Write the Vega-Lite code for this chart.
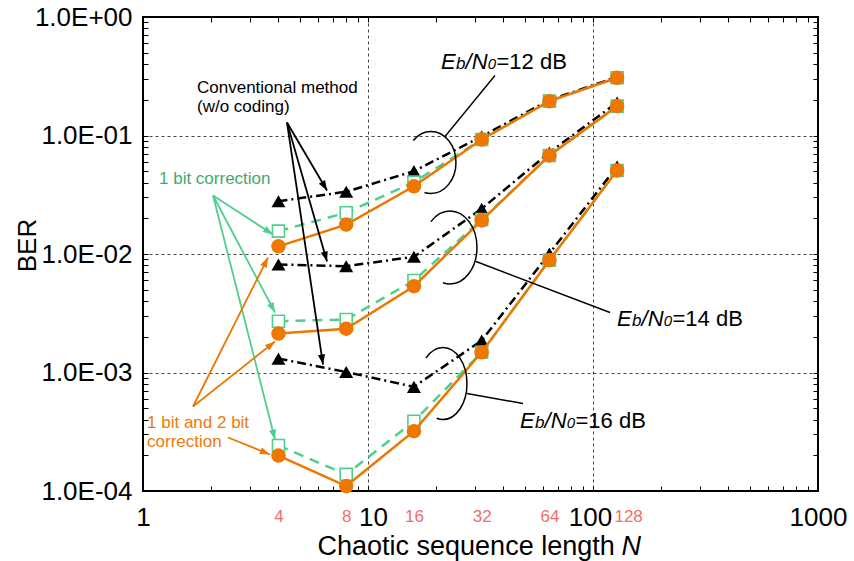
{
"$schema":"https://vega.github.io/schema/vega-lite/v6.json",
"width":675,"height":474,
"autosize":{"type":"none"},
"padding":{"left":143,"top":17,"right":36,"bottom":70},
"background":"white",
"config":{
  "font":"Liberation Sans",
  "view":{"stroke":"black","strokeWidth":2},
  "axis":{"domain":false,"labelFont":"Liberation Sans","titleFont":"Liberation Sans","labelColor":"black","titleColor":"black","titleFontWeight":"normal","tickColor":"black","tickWidth":1,"gridColor":"#444444","gridDash":[3,3],"gridWidth":1,"gridOpacity":1}
},
"datasets":{
  "ber":[
    {"m":"conv","snr":"12","N":4,"BER":0.0279},{"m":"conv","snr":"12","N":8,"BER":0.0335},{"m":"conv","snr":"12","N":16,"BER":0.0500},{"m":"conv","snr":"12","N":32,"BER":0.0981},{"m":"conv","snr":"12","N":64,"BER":0.199},{"m":"conv","snr":"12","N":128,"BER":0.312},
    {"m":"bit1","snr":"12","N":4,"BER":0.0156},{"m":"bit1","snr":"12","N":8,"BER":0.0223},{"m":"bit1","snr":"12","N":16,"BER":0.0404},{"m":"bit1","snr":"12","N":32,"BER":0.0925},{"m":"bit1","snr":"12","N":64,"BER":0.195},{"m":"bit1","snr":"12","N":128,"BER":0.307},
    {"m":"bit12","snr":"12","N":4,"BER":0.0116},{"m":"bit12","snr":"12","N":8,"BER":0.0177},{"m":"bit12","snr":"12","N":16,"BER":0.0373},{"m":"bit12","snr":"12","N":32,"BER":0.0925},{"m":"bit12","snr":"12","N":64,"BER":0.195},{"m":"bit12","snr":"12","N":128,"BER":0.307},
    {"m":"conv","snr":"14","N":4,"BER":0.00816},{"m":"conv","snr":"14","N":8,"BER":0.00789},{"m":"conv","snr":"14","N":16,"BER":0.00947},{"m":"conv","snr":"14","N":32,"BER":0.0241},{"m":"conv","snr":"14","N":64,"BER":0.0719},{"m":"conv","snr":"14","N":128,"BER":0.190},
    {"m":"bit1","snr":"14","N":4,"BER":0.00271},{"m":"bit1","snr":"14","N":8,"BER":0.00280},{"m":"bit1","snr":"14","N":16,"BER":0.00597},{"m":"bit1","snr":"14","N":32,"BER":0.0195},{"m":"bit1","snr":"14","N":64,"BER":0.0678},{"m":"bit1","snr":"14","N":128,"BER":0.177},
    {"m":"bit12","snr":"14","N":4,"BER":0.00213},{"m":"bit12","snr":"14","N":8,"BER":0.00234},{"m":"bit12","snr":"14","N":16,"BER":0.00535},{"m":"bit12","snr":"14","N":32,"BER":0.0192},{"m":"bit12","snr":"14","N":64,"BER":0.0678},{"m":"bit12","snr":"14","N":128,"BER":0.177},
    {"m":"conv","snr":"16","N":4,"BER":0.00131},{"m":"conv","snr":"16","N":8,"BER":0.00101},{"m":"conv","snr":"16","N":16,"BER":0.000757},{"m":"conv","snr":"16","N":32,"BER":0.00186},{"m":"conv","snr":"16","N":64,"BER":0.0101},{"m":"conv","snr":"16","N":128,"BER":0.0548},
    {"m":"bit1","snr":"16","N":4,"BER":0.000242},{"m":"bit1","snr":"16","N":8,"BER":0.000138},{"m":"bit1","snr":"16","N":16,"BER":0.000388},{"m":"bit1","snr":"16","N":32,"BER":0.00148},{"m":"bit1","snr":"16","N":64,"BER":0.00887},{"m":"bit1","snr":"16","N":128,"BER":0.0507},
    {"m":"bit12","snr":"16","N":4,"BER":0.000199},{"m":"bit12","snr":"16","N":8,"BER":0.000110},{"m":"bit12","snr":"16","N":16,"BER":0.000320},{"m":"bit12","snr":"16","N":32,"BER":0.00148},{"m":"bit12","snr":"16","N":64,"BER":0.00887},{"m":"bit12","snr":"16","N":128,"BER":0.0507}
  ],
  "arrows":[
    {"g":"conv","x1":4.365,"y1":0.1287,"x2":6.574,"y2":0.03435},
    {"g":"conv","x1":4.365,"y1":0.1287,"x2":6.574,"y2":0.008646},
    {"g":"conv","x1":4.365,"y1":0.1287,"x2":6.31,"y2":0.001168},
    {"g":"bit1","x1":2.047,"y1":0.03116,"x2":3.783,"y2":0.01461},
    {"g":"bit1","x1":2.047,"y1":0.03116,"x2":3.861,"y2":0.003208},
    {"g":"bit1","x1":2.047,"y1":0.03116,"x2":3.861,"y2":0.0002721},
    {"g":"bit12","x1":1.668,"y1":0.0005165,"x2":3.594,"y2":0.00934},
    {"g":"bit12","x1":1.668,"y1":0.0005165,"x2":3.861,"y2":0.001827},
    {"g":"bit12","x1":2.387,"y1":0.000283,"x2":3.667,"y2":0.0002032}
  ],
  "leaders":[
    {"x1":21.99,"y1":0.09808,"x2":36.67,"y2":0.3209},
    {"x1":30.2,"y1":0.008646,"x2":119.0,"y2":0.003208},
    {"x1":27.54,"y1":0.0006649,"x2":48.86,"y2":0.0005474}
  ],
  "arcs":[
    {"snr":"12","x":19.05,"y":0.0592},
    {"snr":"14","x":23.14,"y":0.01135},
    {"snr":"16","x":21.54,"y":0.000807}
  ],
  "notes":[
    {"g":"conv","x":1.738,"y":0.2306,"t":"Conventional method"},
    {"g":"conv","x":1.738,"y":0.1594,"t":"(w/o coding)"},
    {"g":"bit1","x":1.178,"y":0.0386,"t":"1 bit correction"},
    {"g":"bit12","x":1.042,"y":0.0003434,"t":"1 bit and 2 bit"},
    {"g":"bit12","x":1.042,"y":0.000233,"t":"correction"}
  ],
  "lab":[
    {"snr":"12","x":21.11,"y":0.3675,"t":"=12 dB"},
    {"snr":"14","x":127.8,"y":0.002492,"t":"=14 dB"},
    {"snr":"16","x":47.38,"y":0.0003434,"t":"=16 dB"}
  ]
},
"resolve":{"axis":{"x":"independent","y":"independent"},"scale":{"color":"independent"}},
"encoding":{
  "x":{"type":"quantitative","scale":{"type":"log","domain":[1,1000],"nice":false}},
  "y":{"type":"quantitative","scale":{"type":"log","domain":[0.0001,1],"nice":false}}
},
"layer":[
  {"data":{"name":"ber"},"transform":[{"filter":"datum.m=='conv'"}],
   "mark":{"type":"line","color":"black","strokeWidth":2.5,"strokeDash":[9,4,2,4]},
   "encoding":{
     "x":{"field":"N","axis":{"orient":"bottom","values":[1,10,100,1000],"format":"d","ticks":false,"grid":false,"labelFontSize":26,"labelPadding":13,"labelFlush":false,"labelOverlap":false,"labelOffset":{"condition":[{"test":"datum.value==10","value":5},{"test":"datum.value==100","value":-3}],"value":0},"title":"Chaotic sequence length","titleFontSize":27,"titleX":174,"titleY":63,"titleAlign":"left","titleBaseline":"alphabetic"}},
     "y":{"field":"BER","axis":{"orient":"left","values":[1,0.1,0.01,0.001,0.0001],"ticks":false,"grid":false,"labelFontSize":26,"labelPadding":11,"labelOverlap":false,"labelFlush":false,"labelExpr":"datum.value > 0.5 ? '1.0E+00' : '1.0E-0' + format(-log(datum.value)/LN10, '.0f')","title":"BER","titleFontSize":26,"titleAngle":-90,"titleX":-108,"titleY":228,"titleAlign":"center","titleBaseline":"alphabetic"}},
     "detail":{"field":"snr"}
   }},
  {"data":{"name":"ber"},"transform":[{"filter":"datum.m=='conv'"}],
   "mark":{"type":"point","shape":"triangle-up","filled":true,"color":"black","size":196,"opacity":1},
   "encoding":{
     "x":{"field":"N","axis":{"orient":"bottom","values":[10,100],"grid":true,"ticks":false,"labels":false,"title":null}},
     "y":{"field":"BER","axis":{"orient":"left","values":[0.1,0.01,0.001],"grid":true,"ticks":false,"labels":false,"title":null}}
   }},
  {"data":{"name":"ber"},"transform":[{"filter":"datum.m=='bit1'"}],
   "mark":{"type":"line","color":"#4fcf8d","strokeWidth":2.5,"strokeDash":[10,7]},
   "encoding":{
     "x":{"field":"N","axis":{"orient":"bottom","values":[2,3,4,5,6,7,8,9,10,20,30,40,50,60,70,80,90,100,200,300,400,500,600,700,800,900],"labels":false,"grid":false,"ticks":true,"tickSize":-5,"title":"N","titleFontSize":27,"titleFontStyle":"italic","titleX":478,"titleY":63,"titleAlign":"left","titleBaseline":"alphabetic"}},
     "y":{"field":"BER","axis":{"orient":"left","values":[0.0002,0.0003,0.0004,0.0005,0.0006,0.0007,0.0008,0.0009,0.001,0.002,0.003,0.004,0.005,0.006,0.007,0.008,0.009,0.01,0.02,0.03,0.04,0.05,0.06,0.07,0.08,0.09,0.1,0.2,0.3,0.4,0.5,0.6,0.7,0.8,0.9],"labels":false,"grid":false,"ticks":true,"tickSize":-5,"title":null}},
     "detail":{"field":"snr"}
   }},
  {"data":{"name":"ber"},"transform":[{"filter":"datum.m=='bit1'"}],
   "mark":{"type":"point","shape":"square","filled":false,"fill":"white","fillOpacity":1,"stroke":"#4fcf8d","strokeWidth":1.6,"size":144,"opacity":1},
   "encoding":{
     "x":{"field":"N","axis":{"orient":"top","values":[2,3,4,5,6,7,8,9,10,20,30,40,50,60,70,80,90,100,200,300,400,500,600,700,800,900],"labels":false,"grid":false,"ticks":true,"tickSize":-5,"title":null}},
     "y":{"field":"BER","axis":{"orient":"right","values":[0.0002,0.0003,0.0004,0.0005,0.0006,0.0007,0.0008,0.0009,0.001,0.002,0.003,0.004,0.005,0.006,0.007,0.008,0.009,0.01,0.02,0.03,0.04,0.05,0.06,0.07,0.08,0.09,0.1,0.2,0.3,0.4,0.5,0.6,0.7,0.8,0.9],"labels":false,"grid":false,"ticks":true,"tickSize":-5,"title":null}}
   }},
  {"data":{"name":"ber"},"transform":[{"filter":"datum.m=='bit12'"}],
   "mark":{"type":"line","color":"#ee7700","strokeWidth":2.5},
   "encoding":{
     "x":{"field":"N","axis":{"orient":"bottom","values":[4,8,16,32,64,128],"format":"d","ticks":false,"grid":false,"labelColor":"#f26d6d","labelFontSize":17,"labelPadding":17,"labelFlush":false,"labelOverlap":false,"labelOffset":{"condition":{"test":"datum.value==128","value":11},"value":0},"title":null}},
     "y":{"field":"BER","axis":null},
     "detail":{"field":"snr"}
   }},
  {"data":{"name":"ber"},"transform":[{"filter":"datum.m=='bit12'"}],
   "mark":{"type":"point","shape":"circle","filled":true,"color":"#ee7700","size":210,"opacity":1},
   "encoding":{"x":{"field":"N","axis":null},"y":{"field":"BER","axis":null}}},
  {"data":{"name":"arcs"},"transform":[{"filter":"datum.snr=='12'"}],
   "mark":{"type":"point","filled":false,"stroke":"black","strokeWidth":1.5,"opacity":1,"size":3844,"shape":"M-0.570,-0.707C-0.419,-0.895,-0.214,-1,0,-1C0.445,-1,0.806,-0.552,0.806,0C0.806,0.552,0.445,1,0,1C-0.070,1,-0.141,0.989,-0.209,0.966"},
   "encoding":{"x":{"field":"x","axis":null},"y":{"field":"y","axis":null}}},
  {"data":{"name":"arcs"},"transform":[{"filter":"datum.snr=='14'"}],
   "mark":{"type":"point","filled":false,"stroke":"black","strokeWidth":1.5,"opacity":1,"size":5329,"shape":"M-0.523,-0.707C-0.384,-0.895,-0.196,-1,0,-1C0.409,-1,0.740,-0.552,0.740,0C0.740,0.552,0.409,1,0,1C-0.065,1,-0.129,0.989,-0.192,0.966"},
   "encoding":{"x":{"field":"x","axis":null},"y":{"field":"y","axis":null}}},
  {"data":{"name":"arcs"},"transform":[{"filter":"datum.snr=='16'"}],
   "mark":{"type":"point","filled":false,"stroke":"black","strokeWidth":1.5,"opacity":1,"size":5184,"shape":"M-0.472,-0.707C-0.347,-0.895,-0.177,-1,0,-1C0.368,-1,0.667,-0.552,0.667,0C0.667,0.552,0.368,1,0,1C-0.058,1,-0.116,0.989,-0.173,0.966"},
   "encoding":{"x":{"field":"x","axis":null},"y":{"field":"y","axis":null}}},
  {"data":{"name":"leaders"},
   "mark":{"type":"rule","color":"black","strokeWidth":1.4},
   "encoding":{"x":{"field":"x1","axis":null},"y":{"field":"y1","axis":null},"x2":{"field":"x2"},"y2":{"field":"y2"}}},
  {"data":{"name":"arrows"},
   "mark":{"type":"rule","strokeWidth":1.8},
   "encoding":{"x":{"field":"x1","axis":null},"y":{"field":"y1","axis":null},"x2":{"field":"x2"},"y2":{"field":"y2"},
     "color":{"field":"g","type":"nominal","scale":{"domain":["conv","bit1","bit12"],"range":["black","#4fcf8d","#ee7700"]},"legend":null}}},
  {"data":{"name":"arrows"},
   "transform":[{"calculate":"atan2((log(datum.x2)-log(datum.x1))*225, (log(datum.y2)-log(datum.y1))*118.5)*180/PI","as":"ang"}],
   "mark":{"type":"point","filled":true,"opacity":1,"size":400,"shape":"M0,0L-0.36,1L0.36,1Z"},
   "encoding":{"x":{"field":"x2","axis":null},"y":{"field":"y2","axis":null},
     "angle":{"field":"ang","type":"quantitative","scale":null},
     "color":{"field":"g","type":"nominal","scale":{"domain":["conv","bit1","bit12"],"range":["black","#4fcf8d","#ee7700"]},"legend":null}}},
  {"data":{"name":"notes"},
   "mark":{"type":"text","fontSize":17,"align":"left","baseline":"alphabetic"},
   "encoding":{"x":{"field":"x","axis":null},"y":{"field":"y","axis":null},"text":{"field":"t"},
     "color":{"field":"g","type":"nominal","scale":{"domain":["conv","bit1","bit12"],"range":["black","#3fa970","#ef7a0a"]},"legend":null}}},
  {"data":{"name":"lab"},
   "mark":{"type":"text","fontSize":22,"fontStyle":"italic","align":"left","baseline":"alphabetic","color":"black","dx":0},
   "encoding":{"x":{"field":"x","axis":null},"y":{"field":"y","axis":null},"text":{"value":"E"}}},
  {"data":{"name":"lab"},
   "mark":{"type":"text","fontSize":17,"fontStyle":"italic","align":"left","baseline":"alphabetic","color":"black","dx":15},
   "encoding":{"x":{"field":"x","axis":null},"y":{"field":"y","axis":null},"text":{"value":"b"}}},
  {"data":{"name":"lab"},
   "mark":{"type":"text","fontSize":22,"fontStyle":"italic","align":"left","baseline":"alphabetic","color":"black","dx":24.5},
   "encoding":{"x":{"field":"x","axis":null},"y":{"field":"y","axis":null},"text":{"value":"/"}}},
  {"data":{"name":"lab"},
   "mark":{"type":"text","fontSize":22,"fontStyle":"italic","align":"left","baseline":"alphabetic","color":"black","dx":30.7},
   "encoding":{"x":{"field":"x","axis":null},"y":{"field":"y","axis":null},"text":{"value":"N"}}},
  {"data":{"name":"lab"},
   "mark":{"type":"text","fontSize":15,"fontStyle":"italic","align":"left","baseline":"alphabetic","color":"black","dx":46.7},
   "encoding":{"x":{"field":"x","axis":null},"y":{"field":"y","axis":null},"text":{"value":"0"}}},
  {"data":{"name":"lab"},
   "mark":{"type":"text","fontSize":22,"align":"left","baseline":"alphabetic","color":"black","dx":55.5},
   "encoding":{"x":{"field":"x","axis":null},"y":{"field":"y","axis":null},"text":{"field":"t"}}}
]
}
